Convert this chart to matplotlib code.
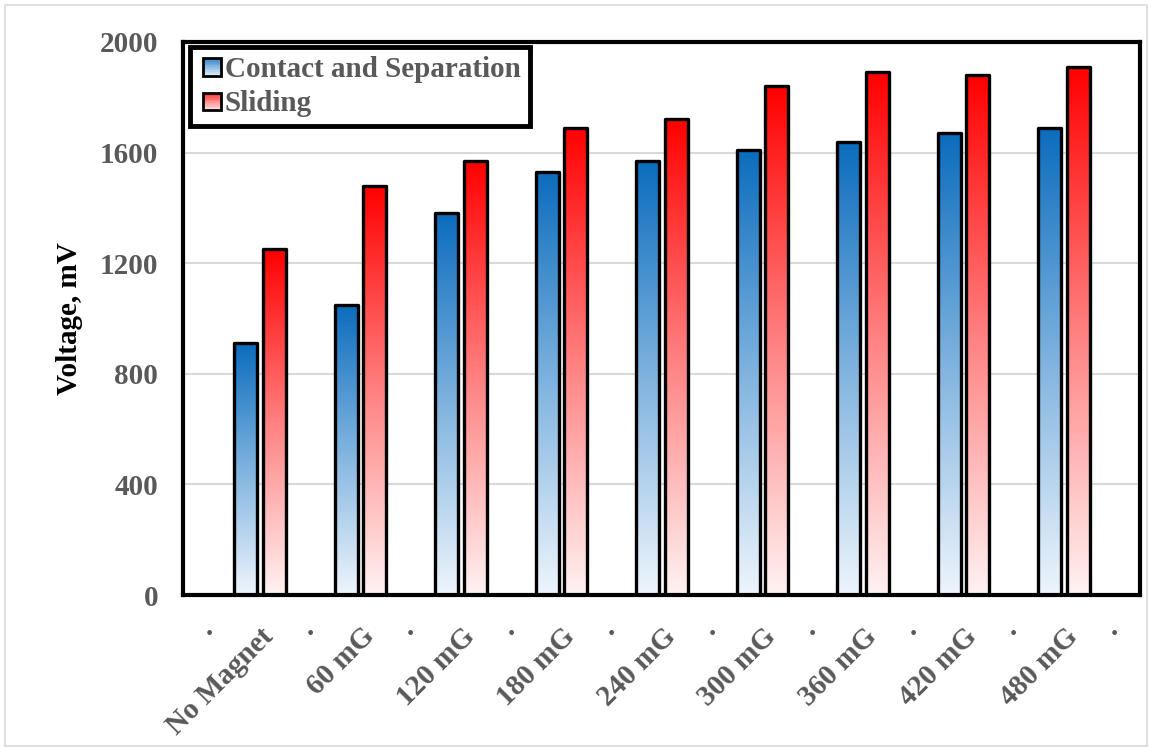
import numpy as np
import matplotlib
matplotlib.use('Agg')
import matplotlib.pyplot as plt
from matplotlib.colors import LinearSegmentedColormap
from matplotlib.patches import Rectangle
from matplotlib.legend_handler import HandlerBase

categories = ['No Magnet', '60 mG', '120 mG', '180 mG', '240 mG',
              '300 mG', '360 mG', '420 mG', '480 mG']
contact = [910, 1050, 1380, 1530, 1570, 1610, 1640, 1670, 1690]
sliding = [1250, 1480, 1570, 1690, 1720, 1840, 1890, 1880, 1910]
series_names = ['Contact and Separation', 'Sliding']
yticks = [0, 400, 800, 1200, 1600, 2000]

plt.rcParams['font.family'] = ['Liberation Serif', 'DejaVu Serif']
plt.rcParams['font.weight'] = 'bold'
GRAY = '#595959'
FS = 21

blue_cm = LinearSegmentedColormap.from_list('b', ['#EEF5FC', '#7FB3DF', '#0B6CBD'])
red_cm = LinearSegmentedColormap.from_list('r', ['#FFF2F2', '#FF8080', '#FF0000'])

fig = plt.figure(figsize=(11.51, 7.47), dpi=100)
# axes box: x 183..1140 px, y 42..595 px
ax = fig.add_axes([183 / 1151, 1 - 595 / 747, (1140 - 183) / 1151, (595 - 42) / 747])

x = np.arange(len(categories))
w = 0.23
off = 0.142
grad = np.linspace(0, 1, 256).reshape(-1, 1)

for vals, dx, cm in [(contact, -off, blue_cm), (sliding, off, red_cm)]:
    bars = ax.bar(x + dx, vals, w, facecolor='none', edgecolor='black',
                  linewidth=2.4, zorder=3, joinstyle='round')
    for b, v in zip(bars, vals):
        im = ax.imshow(grad, extent=[b.get_x(), b.get_x() + w, 0, v],
                       origin='lower', aspect='auto', cmap=cm, zorder=2)
        im.set_clip_path(b)

ax.set_xlim(-0.766, 8.756)
ax.set_ylim(0, 2000)
ax.set_yticks(yticks)
ax.yaxis.grid(True, color='#d9d9d9', lw=1.5, zorder=0)
ax.set_axisbelow(True)
for s in ax.spines.values():
    s.set_linewidth(3)
    s.set_color('black')

ax.tick_params(axis='both', length=0, labelsize=FS, labelcolor=GRAY)
ax.tick_params(axis='y', pad=18)
ax.set_xticks(x)
ax.set_xticklabels(categories, rotation=45, ha='right', rotation_mode='anchor')
ax.tick_params(axis='x', pad=20)
for lbl in ax.get_xticklabels() + ax.get_yticklabels():
    lbl.set_fontweight('bold')

# little dots between categories
for i in range(len(categories) + 1):
    ax.annotate('.', xy=(i - 0.5, 0), xycoords=('data', 'axes fraction'),
                xytext=(0, -40), textcoords='offset pixels', ha='center',
                va='baseline', color=GRAY, fontsize=FS, fontweight='bold',
                annotation_clip=False)

ax.set_ylabel('Voltage, mV', fontsize=FS, fontweight='bold', color='black', labelpad=12)


class GradHandler(HandlerBase):
    def __init__(self, cm):
        super().__init__()
        self.cm = cm

    def create_artists(self, legend, orig, xd, yd, width, height, fontsize, trans):
        s = height * 0.85
        x0 = xd + width - s
        y0 = yd + height * 0.05
        arts = []
        n = 10
        for k in range(n):
            arts.append(Rectangle((x0, y0 + s * k / n), s, s / n,
                                  facecolor=self.cm(k / (n - 1) * 0.7 + 0.1),
                                  edgecolor='none', transform=trans))
        arts.append(Rectangle((x0, y0), s, s, facecolor='none', edgecolor='black',
                              lw=2, transform=trans))
        return arts


h1 = Rectangle((0, 0), 1, 1)
h2 = Rectangle((0, 0), 1, 1)
leg = ax.legend([h1, h2], series_names, loc='upper left', bbox_to_anchor=(0.0073, 0.991),
                borderaxespad=0, fancybox=False, framealpha=1, fontsize=FS,
                handler_map={h1: GradHandler(blue_cm), h2: GradHandler(red_cm)},
                handlelength=0.75, handletextpad=0.15, borderpad=0.3, labelspacing=0.25)
leg.get_frame().set_edgecolor('black')
leg.get_frame().set_linewidth(3.5)
for t in leg.get_texts():
    t.set_color(GRAY)
    t.set_fontweight('bold')

fig.patches.append(Rectangle((5 / 1151, 0.002), 1 - 9 / 1151, 1 - 6 / 747,
                             transform=fig.transFigure, fill=False,
                             edgecolor='#d9d9d9', lw=1.2))

fig.savefig('out.png', dpi=100)
